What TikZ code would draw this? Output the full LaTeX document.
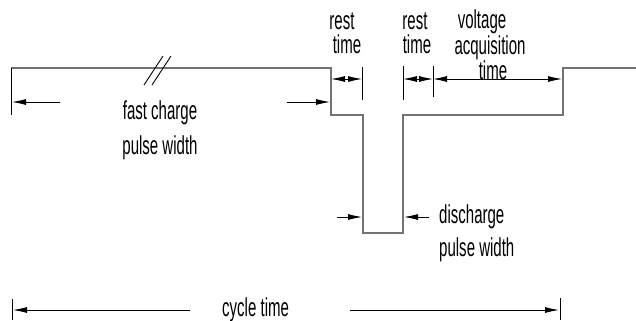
\documentclass[tikz,border=0pt]{standalone}
\usepackage{fontspec}
\setmainfont{Liberation Sans}[FakeStretch=0.58]
\usetikzlibrary{arrows.meta}
\begin{document}
\begin{tikzpicture}[x=1bp,y=-1bp,
  wave/.style={draw=black!55, line width=1.3bp},
  ext/.style={draw=black, line width=0.9bp},
  dimboth/.style={draw=black, line width=0.9bp, {Latex[length=14bp,width=6bp]}-{Latex[length=14bp,width=6bp]}},
  dimone/.style={draw=black, line width=0.9bp, -{Latex[length=14bp,width=6bp]}},
  lbl/.style={inner sep=0pt, anchor=base, font=\fontsize{26}{26}\selectfont},
  lblw/.style={lbl, anchor=base west}]
\useasboundingbox (0,0) rectangle (636,320);
% waveform
\coordinate (w0) at (11,68);
\coordinate (w1) at (331,68);
\coordinate (w2) at (331,115);
\coordinate (w3) at (363,115);
\coordinate (w4) at (363,233);
\coordinate (w5) at (403,233);
\coordinate (w6) at (403,115);
\coordinate (w7) at (563,115);
\coordinate (w8) at (563,68);
\coordinate (w9) at (636,68);
\draw[wave] (w0) -- (w1) -- (w2) -- (w3) -- (w4) -- (w5) -- (w6) -- (w7) -- (w8) -- (w9);
% break marks
\coordinate (s1a) at (144,85); \coordinate (s1b) at (163,56);
\coordinate (s2a) at (152,85); \coordinate (s2b) at (171,56);
\draw[ext] (s1a) -- (s1b);
\draw[ext] (s2a) -- (s2b);
% extension lines
\coordinate (e0a) at (11,68);  \coordinate (e0b) at (11,115);
\coordinate (e1a) at (362,67); \coordinate (e1b) at (362,100);
\coordinate (e2a) at (403,66); \coordinate (e2b) at (403,100);
\coordinate (e3a) at (433,66); \coordinate (e3b) at (433,97);
\draw[ext] (e0a) -- (e0b);
\draw[ext] (e1a) -- (e1b);
\draw[ext] (e2a) -- (e2b);
\draw[ext] (e3a) -- (e3b);
% rest / acquisition dimensions
\coordinate (r1a) at (331,79); \coordinate (r1b) at (362,79);
\coordinate (r2a) at (403,79); \coordinate (r2b) at (433,79);
\coordinate (vaa) at (433,79); \coordinate (vab) at (562,79);
\draw[dimboth] (r1a) -- (r1b);
\draw[dimboth] (r2a) -- (r2b);
\draw[dimboth] (vaa) -- (vab);
% fast charge
\coordinate (fc1s) at (60,102);  \coordinate (fc1e) at (12,102);
\coordinate (fc2s) at (287,102); \coordinate (fc2e) at (330,102);
\draw[dimone] (fc1s) -- (fc1e);
\draw[dimone] (fc2s) -- (fc2e);
% discharge
\coordinate (dc1s) at (337,217); \coordinate (dc1e) at (362,217);
\coordinate (dc2s) at (429,217); \coordinate (dc2e) at (404,217);
\draw[dimone] (dc1s) -- (dc1e);
\draw[dimone] (dc2s) -- (dc2e);
% cycle time
\coordinate (ct1s) at (190,310); \coordinate (ct1e) at (13,310);
\coordinate (ct2s) at (350,310); \coordinate (ct2e) at (559,310);
\coordinate (t1a) at (12,299);  \coordinate (t1b) at (12,320);
\coordinate (t2a) at (560,298); \coordinate (t2b) at (560,320);
\draw[dimone] (ct1s) -- (ct1e);
\draw[dimone] (ct2s) -- (ct2e);
\draw[ext] (t1a) -- (t1b);
\draw[ext] (t2a) -- (t2b);
% labels
\node[lbl] (fc1) at (160,119) {fast charge};
\node[lbl] (fc2) at (160,154) {pulse width};
\node[lbl] (rt1a) at (342,29) {rest};
\node[lbl] (rt1b) at (347,53) {time};
\node[lbl] (rt2a) at (415,29) {rest};
\node[lbl] (rt2b) at (417,53) {time};
\node[lbl] (va1) at (482,28) {voltage};
\node[lbl] (va2) at (490,54) {acquisition};
\node[lbl] (va3) at (493,79) {time};
\node[lblw] (dp1) at (439,223) {discharge};
\node[lblw] (dp2) at (439,256) {pulse width};
\node[lblw] (ct) at (222,316) {cycle time};
\end{tikzpicture}
\end{document}
